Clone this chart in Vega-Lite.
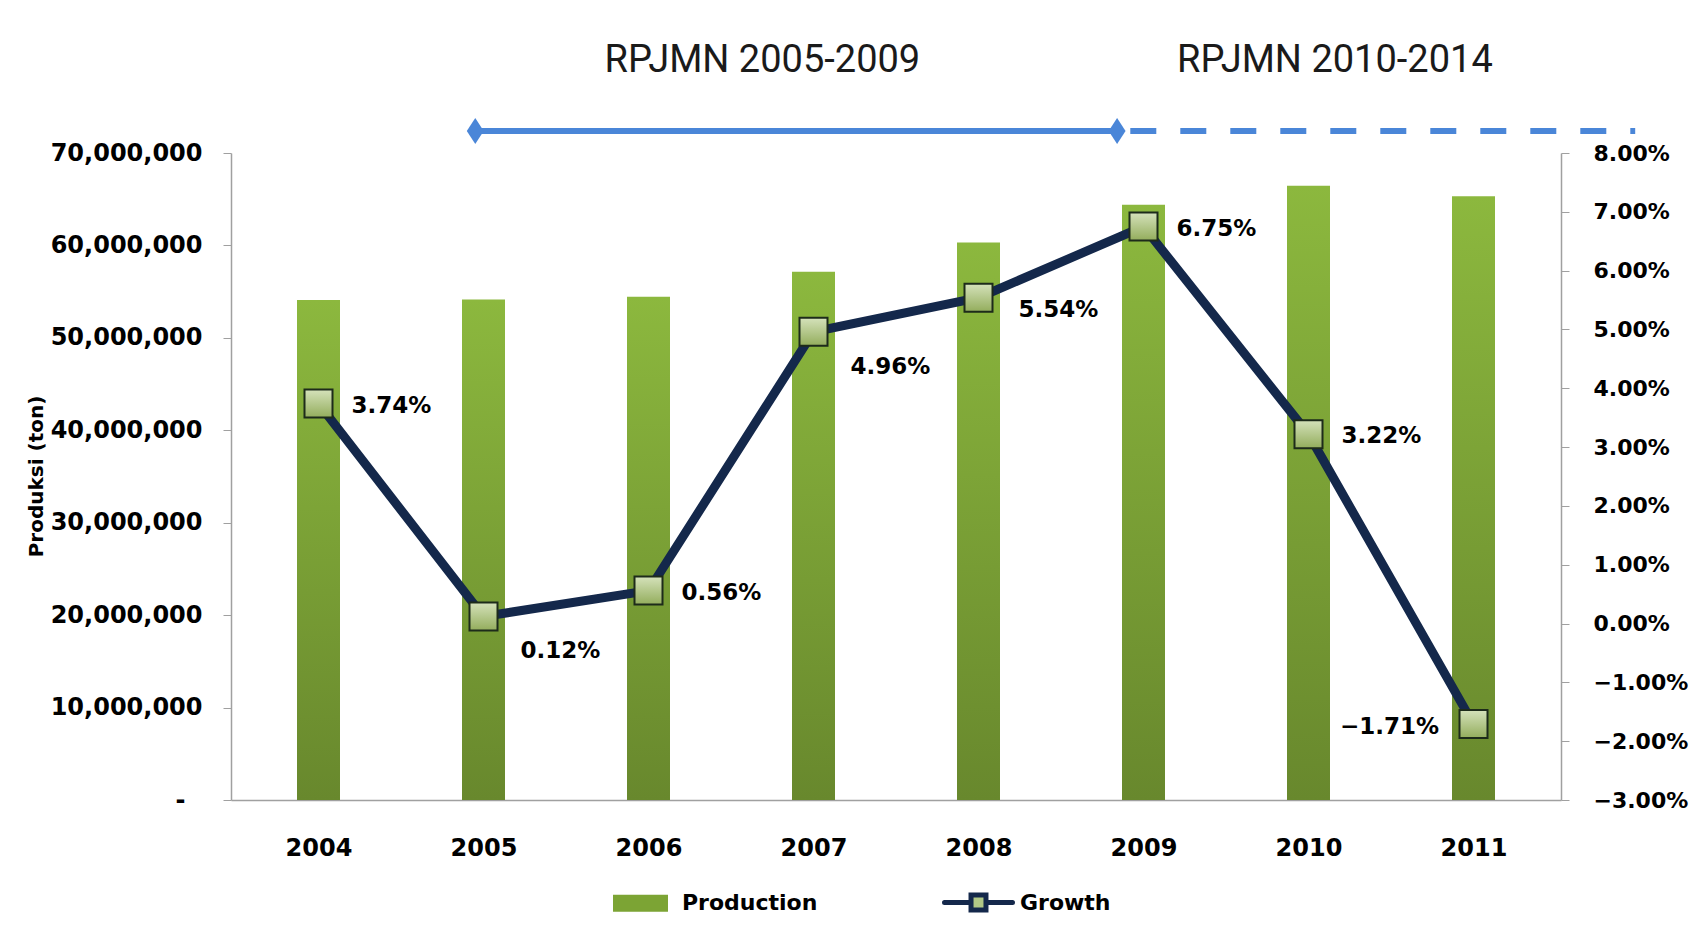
{
  "$schema": "https://vega.github.io/schema/vega-lite/v6.json",
  "width": 1330,
  "height": 647,
  "autosize": {"type": "none"},
  "padding": {"left": 231, "top": 153, "right": 141, "bottom": 139},
  "background": "white",
  "config": {"view": {"stroke": null}, "font": "DejaVu Sans"},
  "datasets": {
    "main": [
      {"year": 2004, "production": 54088468, "growth": 0.0374},
      {"year": 2005, "production": 54151097, "growth": 0.0012},
      {"year": 2006, "production": 54454937, "growth": 0.0056},
      {"year": 2007, "production": 57157435, "growth": 0.0496},
      {"year": 2008, "production": 60325925, "growth": 0.0554},
      {"year": 2009, "production": 64398890, "growth": 0.0675},
      {"year": 2010, "production": 66469394, "growth": 0.0322},
      {"year": 2011, "production": 65330000, "growth": -0.0171}
    ],
    "segments": [
      {"period": "RPJMN 2005-2009", "kind": "solid", "start": 2004.95, "end": 2008.84, "level": 72380000},
      {"period": "RPJMN 2010-2014", "kind": "dashed", "start": 2008.92, "end": 2011.98, "level": 72380000}
    ],
    "ends": [
      {"year": 2004.95, "level": 72380000},
      {"year": 2008.84, "level": 72380000}
    ],
    "titles": [
      {"label": "RPJMN 2005-2009", "pos": 2006.69, "level": 79960000},
      {"label": "RPJMN 2010-2014", "pos": 2010.16, "level": 79960000}
    ]
  },
  "layer": [
    {
      "layer": [
        {
          "data": {"name": "main"},
          "mark": {
            "type": "bar",
            "size": 43,
            "strokeWidth": 0,
            "fill": {"x1": 0, "y1": 0, "x2": 0, "y2": 1, "gradient": "linear", "stops": [{"offset": 0, "color": "#8cb83e"}, {"offset": 1, "color": "#68882d"}]}
          },
          "encoding": {
            "x": {
              "field": "year", "type": "quantitative",
              "scale": {"domain": [2003.5, 2011.5], "nice": false, "zero": false},
              "axis": {"values": [2004, 2005, 2006, 2007, 2008, 2009, 2010, 2011], "format": "d", "title": null, "ticks": false, "tickSize": 0, "labelPadding": 36, "labelFlush": false, "grid": false, "labelFont": "DejaVu Sans", "labelFontWeight": "bold", "labelFontSize": 24, "labelColor": "black", "domainColor": "#a0a0a0", "domainWidth": 1.5}
            },
            "y": {
              "field": "production", "type": "quantitative",
              "scale": {"domain": [0, 70000000], "nice": false},
              "axis": {
                "values": [0, 10000000, 20000000, 30000000, 40000000, 50000000, 60000000, 70000000],
                "labelExpr": "datum.value == 0 ? '-' : format(datum.value, ',')",
                "labelPadding": {"condition": {"test": "datum.value == 0", "value": 38}, "value": 21},
                "grid": false, "tickSize": 8, "tickColor": "#a0a0a0", "domainColor": "#a0a0a0", "domainWidth": 1.5, "labelFont": "DejaVu Sans", "labelFontWeight": "bold", "labelFontSize": 24, "labelColor": "black",
                "title": "Produksi (ton)", "titleFont": "DejaVu Sans", "titleFontWeight": "bold", "titleFontSize": 20, "titleColor": "black", "titleAngle": -90, "titleX": -195, "titleY": 323, "titleAlign": "center", "titleBaseline": "middle"
              }
            },
            "stroke": {"datum": "Production", "type": "nominal", "scale": {"domain": ["Production", "Growth"], "range": ["#7ca434", "#14284b"]}}
          }
        },
        {
          "data": {"name": "segments"},
          "transform": [{"filter": "datum.kind == 'solid'"}],
          "mark": {"type": "rule", "color": "#4a86d8", "strokeWidth": 6},
          "encoding": {
            "x": {"field": "start", "type": "quantitative", "title": null},
            "x2": {"field": "end"},
            "y": {"field": "level", "type": "quantitative", "title": "Produksi (ton)"}
          }
        },
        {
          "data": {"name": "segments"},
          "transform": [{"filter": "datum.kind == 'dashed'"}],
          "mark": {"type": "rule", "color": "#4a86d8", "strokeWidth": 6, "strokeDash": [26, 24]},
          "encoding": {
            "x": {"field": "start", "type": "quantitative", "title": null},
            "x2": {"field": "end"},
            "y": {"field": "level", "type": "quantitative", "title": "Produksi (ton)"}
          }
        },
        {
          "data": {"name": "ends"},
          "mark": {"type": "point", "filled": true, "opacity": 1, "color": "#4a86d8", "shape": "M0,-1L0.65,0L0,1L-0.65,0Z", "size": 676},
          "encoding": {
            "x": {"field": "year", "type": "quantitative", "title": null},
            "y": {"field": "level", "type": "quantitative", "title": "Produksi (ton)"}
          }
        },
        {
          "data": {"name": "titles"},
          "mark": {"type": "text", "font": "Roboto", "fontSize": 38, "color": "#1a1a1a", "align": "center", "baseline": "middle"},
          "encoding": {
            "x": {"field": "pos", "type": "quantitative", "title": null},
            "y": {"field": "level", "type": "quantitative", "title": "Produksi (ton)"},
            "text": {"field": "label"}
          }
        }
      ]
    },
    {
      "layer": [
        {
          "data": {"name": "main"},
          "mark": {"type": "line", "strokeWidth": 9, "strokeJoin": "miter"},
          "encoding": {
            "x": {"field": "year", "type": "quantitative", "title": null},
            "y": {
              "field": "growth", "type": "quantitative",
              "scale": {"domain": [-0.03, 0.08], "nice": false, "zero": false},
              "axis": {"orient": "right", "values": [-0.03, -0.02, -0.01, 0, 0.01, 0.02, 0.03, 0.04, 0.05, 0.06, 0.07, 0.08], "format": ".2%", "grid": false, "tickSize": 8, "tickColor": "#a0a0a0", "domainColor": "#a0a0a0", "domainWidth": 1.5, "labelPadding": 24, "labelFont": "DejaVu Sans", "labelFontWeight": "bold", "labelFontSize": 22, "labelColor": "black", "title": null}
            },
            "stroke": {
              "datum": "Growth", "type": "nominal",
              "scale": {"domain": ["Production", "Growth"], "range": ["#7ca434", "#14284b"]},
              "legend": {
                "orient": "none", "legendX": 373, "legendY": 713, "direction": "horizontal", "title": null,
                "symbolSize": 4624, "labelFont": "DejaVu Sans", "labelFontWeight": "bold", "labelFontSize": 22, "labelColor": "black",
                "labelOffset": 5, "columnPadding": 116, "padding": 0, "symbolStrokeWidth": 5,
                "encode": {
                  "symbols": {
                    "update": {
                      "shape": {"signal": "datum.value === 'Production' ? 'M-0.735,-0.176H0.735V0.176H-0.735Z' : 'M-1,0H-0.22M0.22,0H1M-0.22,-0.22H0.22V0.22H-0.22Z'"},
                      "size": {"value": 4624},
                      "strokeWidth": {"value": 5},
                      "strokeCap": {"value": "round"},
                      "fill": {"signal": "datum.value === 'Production' ? '#7ca434' : '#b1c886'"},
                      "stroke": {"signal": "datum.value === 'Production' ? '#7ca434' : '#14284b'"},
                      "opacity": {"value": 1}
                    }
                  }
                }
              }
            }
          }
        },
        {
          "data": {"name": "main"},
          "mark": {
            "type": "point", "shape": "square", "size": 784, "filled": true, "opacity": 1, "stroke": "#1d2b1a", "strokeWidth": 2,
            "fill": {"x1": 0, "y1": 0, "x2": 0, "y2": 1, "gradient": "linear", "stops": [{"offset": 0, "color": "#d5e2bb"}, {"offset": 1, "color": "#93ad5c"}]}
          },
          "encoding": {
            "x": {"field": "year", "type": "quantitative", "title": null},
            "y": {"field": "growth", "type": "quantitative", "title": null}
          }
        },
        {
          "data": {"name": "main"},
          "transform": [{"filter": "datum.year == 2004 || datum.year == 2006 || datum.year == 2009 || datum.year == 2010"}],
          "mark": {"type": "text", "font": "DejaVu Sans", "fontWeight": "bold", "fontSize": 23, "color": "black", "align": "center", "baseline": "middle", "dx": 73, "dy": 2},
          "encoding": {
            "x": {"field": "year", "type": "quantitative", "title": null},
            "y": {"field": "growth", "type": "quantitative", "title": null},
            "text": {"field": "growth", "format": ".2%"}
          }
        },
        {
          "data": {"name": "main"},
          "transform": [{"filter": "datum.year == 2005 || datum.year == 2007"}],
          "mark": {"type": "text", "font": "DejaVu Sans", "fontWeight": "bold", "fontSize": 23, "color": "black", "align": "center", "baseline": "middle", "dx": 77, "dy": 35},
          "encoding": {
            "x": {"field": "year", "type": "quantitative", "title": null},
            "y": {"field": "growth", "type": "quantitative", "title": null},
            "text": {"field": "growth", "format": ".2%"}
          }
        },
        {
          "data": {"name": "main"},
          "transform": [{"filter": "datum.year == 2008"}],
          "mark": {"type": "text", "font": "DejaVu Sans", "fontWeight": "bold", "fontSize": 23, "color": "black", "align": "center", "baseline": "middle", "dx": 80, "dy": 12},
          "encoding": {
            "x": {"field": "year", "type": "quantitative", "title": null},
            "y": {"field": "growth", "type": "quantitative", "title": null},
            "text": {"field": "growth", "format": ".2%"}
          }
        },
        {
          "data": {"name": "main"},
          "transform": [{"filter": "datum.year == 2011"}],
          "mark": {"type": "text", "font": "DejaVu Sans", "fontWeight": "bold", "fontSize": 23, "color": "black", "align": "center", "baseline": "middle", "dx": -84, "dy": 3},
          "encoding": {
            "x": {"field": "year", "type": "quantitative", "title": null},
            "y": {"field": "growth", "type": "quantitative", "title": null},
            "text": {"field": "growth", "format": ".2%"}
          }
        }
      ]
    }
  ],
  "resolve": {"scale": {"y": "independent"}}
}
